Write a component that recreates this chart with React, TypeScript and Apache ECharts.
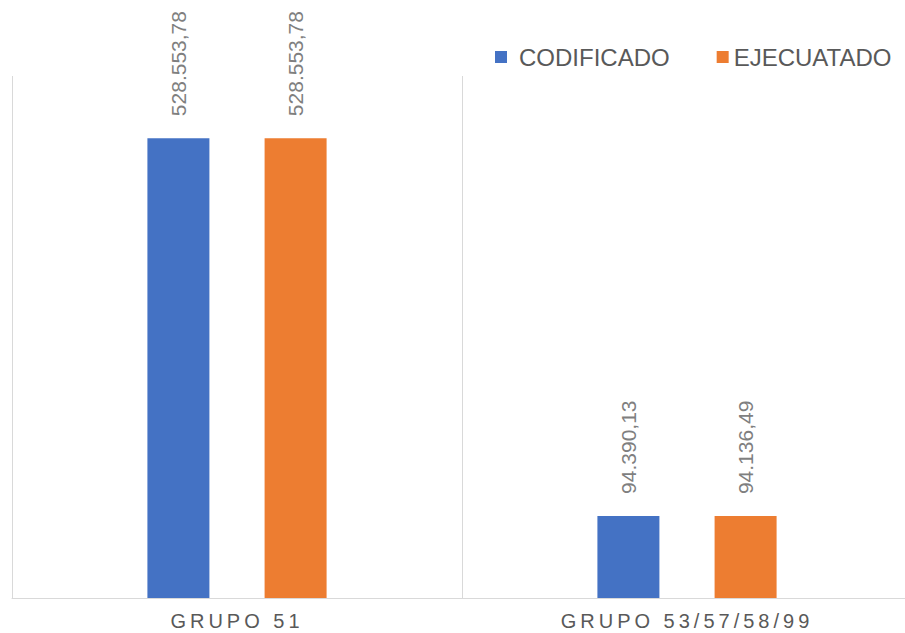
import React, { useEffect, useRef } from "react";
import * as echarts from "echarts";

const categories = ["GRUPO 51", "GRUPO 53/57/58/99"];
const codificado = [528553.78, 94390.13];
const ejecutado = [528553.78, 94136.49];
const seriesNames = ["CODIFICADO", "EJECUATADO"];

const FONT = '"Liberation Sans", Arial, sans-serif';

const fmt = (v: number) => {
  const [i, d] = v.toFixed(2).split(".");
  return i.replace(/\B(?=(\d{3})+(?!\d))/g, ".") + "," + d;
};

export default function App() {
  const ref = useRef<HTMLDivElement>(null);
  useEffect(() => {
    if (!ref.current) return;
    const chart = echarts.init(ref.current, undefined, { renderer: "svg" });
    const label = {
      show: true,
      position: "top",
      rotate: 90,
      align: "left",
      verticalAlign: "middle",
      distance: 22,
      color: "#7f7f7f",
      fontSize: 21,
      fontFamily: FONT,
      formatter: (p: any) => fmt(p.value),
    };
    chart.setOption({
      animation: false,
      backgroundColor: "#ffffff",
      legend: {
        left: 490,
        top: 40,
        itemWidth: 12,
        itemHeight: 12,
        itemGap: 47,
        icon: "rect",
        textStyle: { color: "#595959", fontSize: 24, fontFamily: FONT, lineHeight: 24 },
        data: [
          { name: seriesNames[0], textStyle: { padding: [0, 0, 0, 7] } },
          { name: seriesNames[1] },
        ],
      },
      grid: { left: 12, top: 76, bottom: 35, width: 900, outerBoundsMode: "none", containLabel: false },
      xAxis: {
        type: "category",
        data: categories,
        boundaryGap: true,
        axisLine: { lineStyle: { color: "#d9d9d9", width: 1 } },
        axisTick: { show: false },
        splitLine: { show: true, lineStyle: { color: "#d9d9d9", width: 1 } },
        axisLabel: {
          color: "#595959",
          fontSize: 20,
          lineHeight: 20,
          fontFamily: FONT,
          margin: 13,
        },
      },
      yAxis: {
        type: "value",
        min: 0,
        max: 600000,
        show: false,
        splitLine: { show: false },
      },
      series: [
        {
          name: seriesNames[0],
          type: "bar",
          data: codificado,
          barWidth: 62,
          barGap: "89%",
          itemStyle: { color: "#4472c4" },
          label,
        },
        {
          name: seriesNames[1],
          type: "bar",
          data: ejecutado,
          barWidth: 62,
          barGap: "89%",
          itemStyle: { color: "#ed7d31" },
          label,
        },
      ],
    });
    const applySpacing = () => {
      const texts = ref.current?.querySelectorAll("text") || [];
      texts.forEach((t) => {
        if (categories.includes((t.textContent || "").trim())) {
          t.setAttribute("letter-spacing", "4");
        }
      });
    };
    applySpacing();
    chart.on("finished", applySpacing);
    return () => chart.dispose();
  }, []);
  return (
    <div
      ref={ref}
      style={{ position: "fixed", left: 0, top: 0, width: 905, height: 633 }}
    />
  );
}
